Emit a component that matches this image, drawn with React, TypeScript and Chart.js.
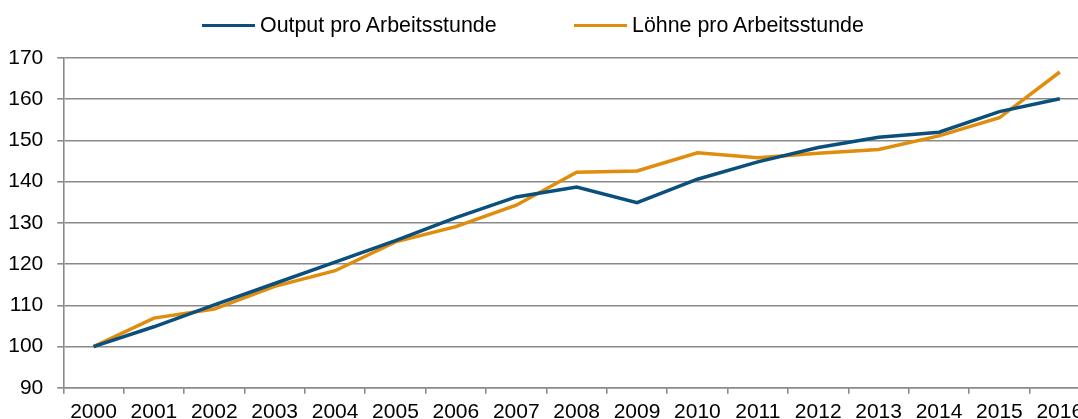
import React, { useEffect, useRef } from "react";
import { Chart, registerables } from "chart.js";

Chart.register(...registerables);

const years = ["2000","2001","2002","2003","2004","2005","2006","2007","2008","2009","2010","2011","2012","2013","2014","2015","2016"];
const outputPerHour = [100.0,104.8,110.1,115.3,120.5,125.7,131.3,136.3,138.7,134.9,140.6,144.8,148.3,150.8,152.0,157.0,160.1];
const wagesPerHour = [100.0,106.9,109.1,114.6,118.4,125.4,129.1,134.3,142.3,142.6,147.0,145.8,146.9,147.8,151.1,155.5,166.6];
const seriesNames = ["Output pro Arbeitsstunde", "Löhne pro Arbeitsstunde"];
const seriesColors = ["#0B4F7C", "#E08C0C"];
const yMin = 90;
const yMax = 170;
const yStep = 10;

const FONT = "'Liberation Sans', Arial, sans-serif";
const GRID = "#8A8A8A";

export default function App() {
  const ref = useRef<HTMLCanvasElement | null>(null);

  useEffect(() => {
    if (!ref.current) return;
    const chart = new Chart(ref.current, {
      type: "line",
      data: {
        labels: years,
        datasets: [
          {
            label: seriesNames[0],
            data: outputPerHour,
            borderColor: seriesColors[0],
            backgroundColor: seriesColors[0],
            borderWidth: 3.5,
            pointRadius: 0,
            tension: 0,
            fill: false,
          },
          {
            label: seriesNames[1],
            data: wagesPerHour,
            borderColor: seriesColors[1],
            backgroundColor: seriesColors[1],
            borderWidth: 3.5,
            pointRadius: 0,
            tension: 0,
            fill: false,
          },
        ],
      },
      options: {
        responsive: false,
        animation: false,
        devicePixelRatio: 1,
        layout: { padding: { top: 58, right: 10, left: 0, bottom: 0 } },
        plugins: {
          legend: { display: false },
          tooltip: { enabled: false },
        },
        scales: {
          x: {
            offset: true,
            grid: {
              offset: true,
              drawOnChartArea: false,
              drawTicks: true,
              tickLength: 6,
              color: GRID,
              lineWidth: 1.6,
            },
            border: { color: GRID, width: 1.6 },
            ticks: {
              color: "#000",
              font: { family: FONT, size: 21 },
              padding: 6,
              maxRotation: 0,
              autoSkip: false,
            },
          },
          y: {
            min: yMin,
            max: yMax,
            afterFit: (scale: any) => {
              scale.width = 63.3;
            },
            grid: {
              color: GRID,
              lineWidth: 1.6,
              tickLength: 6,
              drawTicks: true,
            },
            border: { color: GRID, width: 1.6 },
            ticks: {
              stepSize: yStep,
              color: "#000",
              font: { family: FONT, size: 21 },
              padding: 14,
            },
          },
        },
      },
    });
    return () => chart.destroy();
  }, []);

  const legendItem = (i: number, lineLeft: number) => (
    <div
      key={i}
      style={{
        position: "absolute",
        left: lineLeft,
        top: 12,
        height: 26,
        display: "flex",
        alignItems: "center",
        whiteSpace: "nowrap",
      }}
    >
      <div style={{ width: 53, height: 3, background: seriesColors[i], marginRight: 5 }} />
      <span style={{ fontFamily: FONT, fontSize: 21.4, color: "#000", lineHeight: "26px" }}>
        {seriesNames[i]}
      </span>
    </div>
  );

  return (
    <div
      style={{
        position: "fixed",
        left: 0,
        top: 0,
        width: 1078,
        height: 419,
        overflow: "hidden",
        background: "#fff",
      }}
    >
      <canvas
        ref={ref}
        width={1100}
        height={431}
        style={{ position: "absolute", left: 0, top: 0, width: 1100, height: 431 }}
      />
      {legendItem(0, 202)}
      {legendItem(1, 574)}
    </div>
  );
}
